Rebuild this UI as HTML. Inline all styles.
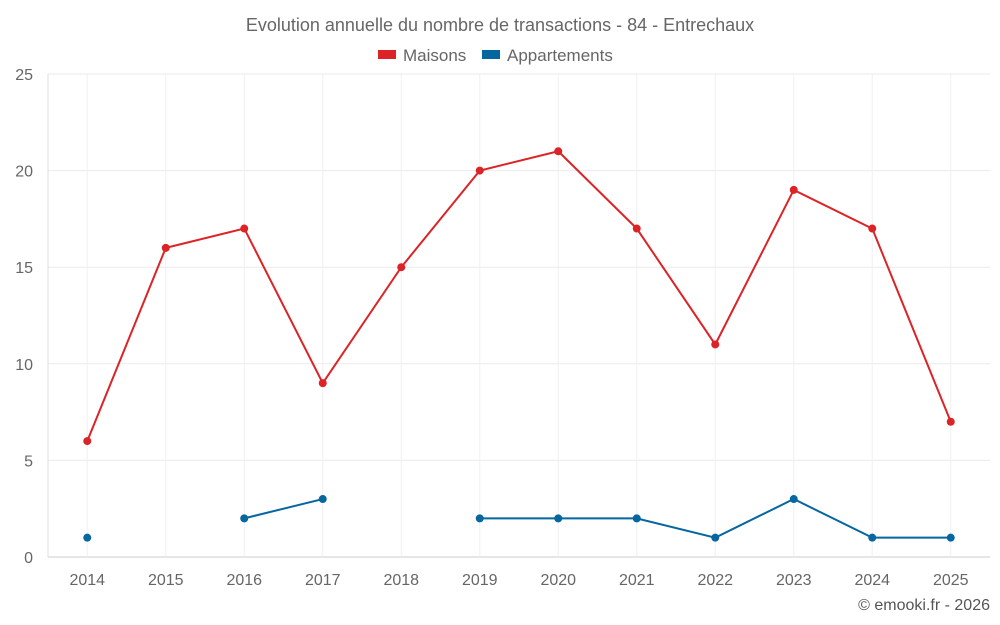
<!DOCTYPE html>
<html><head><meta charset="utf-8"><style>
body{margin:0;background:#fff;font-family:"Liberation Sans",sans-serif}
svg{display:block}
</style></head><body>
<svg id="chart" width="1000" height="625">
<text x="500" y="31" text-anchor="middle" font-size="18" fill="#666">Evolution annuelle du nombre de transactions - 84 - Entrechaux</text>
<g><rect x="378" y="50" width="18" height="9" fill="#dc2326"/><text x="403" y="61" font-size="17" fill="#666">Maisons</text></g>
<g><rect x="482" y="50" width="18" height="9" fill="#0566a0"/><text x="507" y="61" font-size="17" fill="#666">Appartements</text></g>
<text x="990" y="610" text-anchor="end" font-size="16" fill="#555">© emooki.fr - 2026</text>
<g id="grid"></g><g id="axes"></g><g id="series"></g>
</svg>
<script>
const categories=["2014","2015","2016","2017","2018","2019","2020","2021","2022","2023","2024","2025"];
const maisons=[6,16,17,9,15,20,21,17,11,19,17,7];
const appartements=[1,null,2,3,null,2,2,2,1,3,1,1];
const yTicks=[0,5,10,15,20,25];
const L=48,R=990,T=74,B=557,yMax=25;
const bw=(R-L)/categories.length;
const xs=i=>L+bw*(i+0.5);
const ys=v=>B-(B-T)*v/yMax;
const NS="http://www.w3.org/2000/svg";
function mk(tag,attrs,parent){const e=document.createElementNS(NS,tag);for(const k in attrs)e.setAttribute(k,attrs[k]);document.getElementById(parent).appendChild(e);return e;}
yTicks.forEach(t=>{
 const g=mk("line",{x1:L,x2:R,y1:ys(t),y2:ys(t),stroke:t===0?"#ccc":"#ebebeb","stroke-width":1},"grid");
 
 
 const tx=mk("text",{x:33,y:ys(t)+6,"text-anchor":"end","font-size":16,fill:"#666"},"axes");
 tx.textContent=t;
 
 
});
categories.forEach((c,i)=>{
 const g=mk("line",{x1:xs(i),x2:xs(i),y1:T,y2:B,stroke:"#f0f0f0","stroke-width":1},"grid");
 
 
 const tx=mk("text",{x:xs(i),y:585,"text-anchor":"middle","font-size":16,fill:"#666"},"axes");
 tx.textContent=c;
 
 
});
const ax=mk("line",{x1:L,x2:L,y1:T,y2:B,stroke:"#ddd"},"axes");


function drawSeries(data,color,name){
 let seg=[];
 const segs=[];
 data.forEach((v,i)=>{if(v==null){if(seg.length)segs.push(seg);seg=[];}else seg.push([xs(i),ys(v)]);});
 if(seg.length)segs.push(seg);
 segs.forEach(s=>{if(s.length>1){
  const p=mk("polyline",{points:s.map(q=>q.join(",")).join(" "),fill:"none",stroke:color,"stroke-width":2},"series");
  
  
 }});
 data.forEach((v,i)=>{if(v==null)return;
  const c=mk("circle",{cx:xs(i),cy:ys(v),r:4,fill:color},"series");
  
  
 });
}
drawSeries(maisons,"#dc2326","maisons");
drawSeries(appartements,"#0566a0","appartements");
</script>
</body></html>
